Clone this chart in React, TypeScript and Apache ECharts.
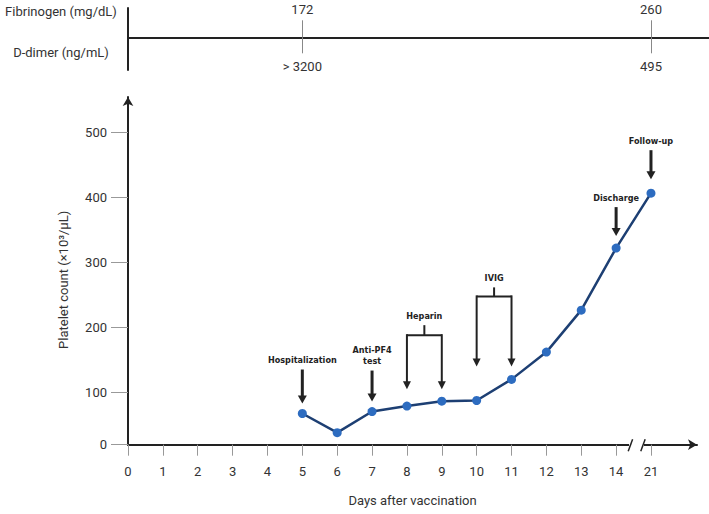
import React, { useEffect, useRef } from 'react';
import * as echarts from 'echarts';

// ---------- data ----------
const dayLabels = ['0', '1', '2', '3', '4', '5', '6', '7', '8', '9', '10', '11', '12', '13', '14', '21'];
const sampleDays = ['5', '6', '7', '8', '9', '10', '11', '12', '13', '14', '21'];
const plateletCounts = [68, 38.5, 71, 79.5, 87, 88, 120.5, 162.5, 227, 322.5, 407];

// the drawn x axis sits a little above zero; its tick is labelled "0"
const yTickValues = [20, 100, 200, 300, 400, 500];
const yTickLabels = ['0', '100', '200', '300', '400', '500'];

const labDays = ['5', '21'];
const fibrinogen = ['172', '260'];
const dDimer = ['> 3200', '495'];
const labRows = ['Fibrinogen (mg/dL)', 'D-dimer (ng/mL)'];

const eventLabels = ['Hospitalization', 'Anti-PF4\ntest', 'Discharge', 'Follow-up'];
const eventDays = ['5', '7', '14', '21'];
const treatmentLabels = ['Heparin', 'IVIG'];
const treatmentDays = [['8', '9'], ['10', '11']];

// ---------- layout ----------
const GRID_LEFT = 128;
const MAIN_WIDTH = 569;
const X_MAX = 16.32;
const PPU = MAIN_WIDTH / X_MAX;
const TOP_WIDTH = 709 - GRID_LEFT;
const TOP_MAX = TOP_WIDTH / PPU;

const eventLayout = [
  { gap: 10, len: 34 },
  { gap: 10, len: 31 },
  { gap: 12, len: 29 },
  { gap: 14, len: 29 },
];
const treatmentLayout = [
  { gap: 12, reach: 54, stem: 10 },
  { gap: 13, reach: 70, stem: 9 },
];

const TXT = '#333';
const INK = '#222';
const FONT = 'Roboto, sans-serif';
const ANNOT_FONT = "'DejaVu Sans Condensed', 'Liberation Sans Narrow', 'DejaVu Sans', sans-serif";

const dayPos = (d: string) => dayLabels.indexOf(d);
const dayTicks = dayLabels.map((_, i) => i);
const labTicks = labDays.map(dayPos);

export default function App() {
  const ref = useRef<HTMLDivElement>(null);

  useEffect(() => {
    document.body.style.margin = '0';
    const chart = echarts.init(ref.current!, null, { renderer: 'svg' });

    const option: any = {
      animation: false,
      grid: [
        { left: GRID_LEFT, width: MAIN_WIDTH, top: 97, bottom: 69.3, containLabel: false },
        { left: GRID_LEFT, width: TOP_WIDTH, top: 8, height: 62, containLabel: false },
      ],
      xAxis: [
        {
          type: 'value', gridIndex: 0, min: 0, max: X_MAX,
          axisLine: { show: true, onZero: false, symbol: ['none', 'arrow'], symbolSize: [8, 9], lineStyle: { color: INK, width: 2 } },
          axisTick: { show: true, customValues: dayTicks, length: 11, lineStyle: { color: '#999', width: 1 } },
          axisLabel: {
            customValues: dayTicks, margin: 20, color: TXT, fontSize: 13, fontFamily: FONT,
            formatter: (v: number) => dayLabels[Math.round(v)] ?? '',
          },
          splitLine: { show: false },
          name: 'Days after vaccination', nameLocation: 'middle', nameGap: 49,
          nameTextStyle: { color: TXT, fontSize: 13, fontFamily: FONT },
        },
        {
          type: 'value', gridIndex: 1, min: 0, max: TOP_MAX, position: 'bottom', offset: -32.7,
          axisLine: { show: true, onZero: false, lineStyle: { color: INK, width: 2 } },
          axisTick: { show: true, inside: true, customValues: labTicks, length: 17, lineStyle: { color: '#888', width: 1 } },
          axisLabel: {
            inside: true, customValues: labTicks, margin: 21, color: TXT, fontSize: 13, fontFamily: FONT,
            formatter: (v: number) => fibrinogen[labTicks.indexOf(Math.round(v))] ?? '',
          },
          splitLine: { show: false },
        },
        {
          type: 'value', gridIndex: 1, min: 0, max: TOP_MAX, position: 'bottom', offset: -32.7,
          axisLine: { show: false, onZero: false },
          axisTick: { show: true, customValues: labTicks, length: 16, lineStyle: { color: '#888', width: 1 } },
          axisLabel: {
            customValues: labTicks, margin: 23, color: TXT, fontSize: 13, fontFamily: FONT,
            formatter: (v: number) => dDimer[labTicks.indexOf(Math.round(v))] ?? '',
          },
          splitLine: { show: false },
        },
      ],
      yAxis: [
        {
          type: 'value', gridIndex: 0, min: 20, max: 555,
          axisLine: { show: true, onZero: false, symbol: ['none', 'arrow'], symbolSize: [8, 9], lineStyle: { color: INK, width: 2 } },
          axisTick: { show: true, customValues: yTickValues, length: 17, lineStyle: { color: '#999', width: 1 } },
          axisLabel: {
            customValues: yTickValues, margin: 21, color: TXT, fontSize: 13, fontFamily: FONT,
            formatter: (v: number) => yTickLabels[yTickValues.indexOf(v)] ?? '',
          },
          splitLine: { show: false },
          name: 'Platelet count (×10³/µL)', nameLocation: 'middle', nameGap: 58,
          nameTextStyle: { color: TXT, fontSize: 13, fontFamily: FONT, padding: [0, 18, 0, 0] },
        },
        {
          type: 'value', gridIndex: 1, min: 0, max: 1,
          axisLine: { show: true, onZero: false, lineStyle: { color: INK, width: 2 } },
          axisTick: { show: false },
          axisLabel: { show: false },
          splitLine: { show: false },
        },
      ],
      series: [
        {
          type: 'line',
          xAxisIndex: 0,
          yAxisIndex: 0,
          data: sampleDays.map((d, i) => [dayPos(d), plateletCounts[i]]),
          symbol: 'circle',
          symbolSize: 9,
          lineStyle: { color: '#1d3f73', width: 2.5 },
          itemStyle: { color: '#2d6cc0' },
          z: 5,
        },
      ],
    };
    chart.setOption(option);

    const px = (pos: number, v: number) =>
      chart.convertToPixel({ xAxisIndex: 0, yAxisIndex: 0 }, [pos, v]) as number[];
    const valueOf = (d: string) => plateletCounts[sampleDays.indexOf(d)];

    const g: any[] = [];
    const arrow = (x: number, yTop: number, yTip: number, w: number, hw: number, hh: number) => {
      g.push({ type: 'line', shape: { x1: x, y1: yTop, x2: x, y2: yTip - hh + 1 }, style: { stroke: INK, lineWidth: w }, z: 10 });
      g.push({ type: 'polygon', shape: { points: [[x - hw / 2, yTip - hh], [x + hw / 2, yTip - hh], [x, yTip]] }, style: { fill: INK }, z: 10 });
    };

    // single-event arrows
    eventLabels.forEach((label, i) => {
      const d = eventDays[i];
      const [x, y] = px(dayPos(d), valueOf(d));
      const tip = y - eventLayout[i].gap;
      const top = tip - eventLayout[i].len;
      arrow(x, top, tip, 3, 9, 8);
      g.push({
        type: 'text', x, y: top - 4, z: 10,
        style: {
          text: label, fill: INK, fontFamily: ANNOT_FONT, fontWeight: 'bold', fontSize: 9,
          align: 'center', verticalAlign: 'bottom', lineHeight: 11,
        },
      });
    });

    // treatment brackets
    treatmentLabels.forEach((label, i) => {
      const pts = treatmentDays[i].map((d) => px(dayPos(d), valueOf(d)));
      const tip = Math.min(...pts.map((p) => p[1])) - treatmentLayout[i].gap;
      const bar = tip - treatmentLayout[i].reach;
      const xl = pts[0][0];
      const xr = pts[1][0];
      const xm = (xl + xr) / 2;
      const stemTop = bar - treatmentLayout[i].stem;
      g.push({ type: 'polyline', shape: { points: [[xl, bar], [xr, bar]] }, style: { stroke: INK, lineWidth: 2, fill: null }, z: 10 });
      g.push({ type: 'line', shape: { x1: xm, y1: stemTop, x2: xm, y2: bar }, style: { stroke: INK, lineWidth: 2 }, z: 10 });
      arrow(xl, bar - 1, tip, 2, 8, 8);
      arrow(xr, bar - 1, tip, 2, 8, 8);
      g.push({
        type: 'text', x: xm, y: stemTop - 5, z: 10,
        style: {
          text: label, fill: INK, fontFamily: ANNOT_FONT, fontWeight: 'bold', fontSize: 9,
          align: 'center', verticalAlign: 'bottom',
        },
      });
    });

    // axis break between 14 and 21
    const [bx1, by] = px(14.37, 20);
    const [bx2] = px(14.8, 20);
    g.push({ type: 'rect', shape: { x: bx1, y: by - 3, width: bx2 - bx1, height: 6 }, style: { fill: '#fff' }, z: 20 });
    [14.41, 14.77].forEach((p) => {
      const [sx] = px(p, 20);
      g.push({ type: 'line', shape: { x1: sx - 2.2, y1: by + 6.5, x2: sx + 2.2, y2: by - 5.5 }, style: { stroke: INK, lineWidth: 1.5 }, z: 21 });
    });

    // row labels of the laboratory panel
    const rowY = [11.7, 52.7];
    labRows.forEach((t, i) => {
      g.push({
        type: 'text', x: 61, y: rowY[i], z: 10,
        style: { text: t, fill: TXT, fontFamily: FONT, fontSize: 13, align: 'center', verticalAlign: 'middle' },
      });
    });

    chart.setOption({ graphic: g });

    return () => chart.dispose();
  }, []);

  return <div ref={ref} style={{ width: 709, height: 514 }} />;
}
